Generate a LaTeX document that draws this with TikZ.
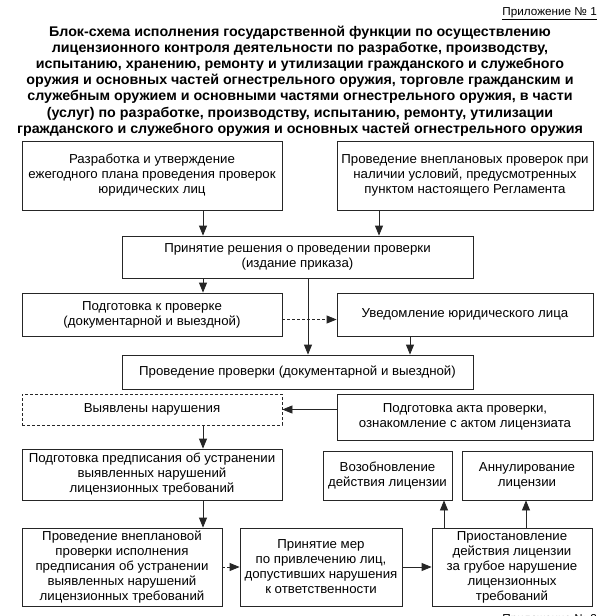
\documentclass[tikz,border=0pt]{standalone}
\usepackage{fontspec}
\setmainfont[FakeStretch=1.02]{Liberation Sans}
\usetikzlibrary{arrows.meta}
\newcommand{\boxfont}{\fontsize{13}{15}\selectfont}
\newcommand{\appfont}{\fontsize{11.5}{14}\selectfont}
\newcommand{\titlefont}{\fontsize{14}{16.2}\selectfont\bfseries}
\tikzset{
  box/.style={draw=black!85, line width=0.8pt, align=center, inner sep=1pt, font=\boxfont, text=black},
  dbox/.style={box, dashed, dash pattern=on 3pt off 2pt},
  arr/.style={draw=black!85, line width=0.8pt, -{Triangle[length=10pt,width=8pt]}},
  darr/.style={arr, dash pattern=on 3pt off 2pt}
}
\begin{document}
\begin{tikzpicture}[x=1pt,y=-1pt]
\clip (0,0) rectangle (600,616);
\fill[white] (0,0) rectangle (600,616);
% header
\node[anchor=east, font=\appfont, inner sep=0pt] (app1) at (597,14) {\underline{Приложение № 1}};
\node[align=center, font=\titlefont, anchor=north, inner sep=0pt] (title) at (300,25.5) {Блок-схема исполнения государственной функции по осуществлению\\
лицензионного контроля деятельности по разработке, производству,\\
испытанию, хранению, ремонту и утилизации гражданского и служебного\\
оружия и основных частей огнестрельного оружия, торговле гражданским и\\
служебным оружием и основными частями огнестрельного оружия, в части\\
(услуг) по разработке, производству, испытанию, ремонту, утилизации\\
гражданского и служебного оружия и основных частей огнестрельного оружия};
% boxes
\node[box, minimum width=260pt, minimum height=69pt] (b1) at (152,175.5) {Разработка и утверждение\\ежегодного плана проведения проверок\\юридических лиц};
\node[box, minimum width=256pt, minimum height=69pt] (b2) at (465,175.5) {Проведение внеплановых проверок при\\наличии условий, предусмотренных\\пунктом настоящего Регламента};
\node[box, minimum width=351pt, minimum height=42pt] (b3) at (297.5,257) {Принятие решения о проведении проверки\\(издание приказа)};
\node[box, minimum width=260pt, minimum height=43pt] (b4) at (152,314.5) {Подготовка к проверке\\(документарной и выездной)};
\node[box, minimum width=256pt, minimum height=43pt] (b5) at (465,314.5) {Уведомление юридического лица};
\node[box, minimum width=351pt, minimum height=34pt] (b6) at (297.5,372) {Проведение проверки (документарной и выездной)};
\node[dbox, minimum width=260pt, minimum height=31pt] (b7) at (152,409.5) {Выявлены нарушения};
\node[box, minimum width=256pt, minimum height=46pt] (b8) at (465,417) {Подготовка акта проверки,\\ознакомление с актом лицензиата};
\node[box, minimum width=260pt, minimum height=51pt] (b9) at (152,474.5) {Подготовка предписания об устранении\\выявленных нарушений\\лицензионных требований};
\node[box, minimum width=129pt, minimum height=49pt] (b10) at (387.5,475.5) {Возобновление\\действия лицензии};
\node[box, minimum width=130pt, minimum height=49pt] (b11) at (527,475.5) {Аннулирование\\лицензии};
\node[box, minimum width=200pt, minimum height=78pt] (b12) at (122,567) {Проведение внеплановой\\проверки исполнения\\предписания об устранении\\выявленных нарушений\\лицензионных требований};
\node[box, minimum width=162pt, minimum height=78pt] (b13) at (321,567) {Принятие мер\\по привлечению лиц,\\допустивших нарушения\\к ответственности};
\node[box, minimum width=160pt, minimum height=78pt] (b14) at (512,567) {Приостановление\\действия лицензии\\за грубое нарушение\\лицензионных\\требований};
\node[anchor=east, font=\appfont, inner sep=0pt] (app2) at (597,620) {Приложение № 2};
% connector columns
\coordinate (xl) at (203,0);
\coordinate (xr) at (379,0);
\coordinate (xm) at (308,0);
\coordinate (xu) at (410,0);
\coordinate (xa) at (444,0);
\coordinate (xb) at (526,0);
% connectors
\draw[arr] (b1.south -| xl) -- (b3.north -| xl);
\draw[arr] (b2.south -| xr) -- (b3.north -| xr);
\draw[arr] (b3.south -| xl) -- (b4.north -| xl);
\draw[arr] (b3.south -| xm) -- (b6.north -| xm);
\draw[darr] ([yshift=-5pt]b4.east) -- ([yshift=-5pt]b5.west);
\draw[arr] (b5.south -| xu) -- (b6.north -| xu);
\draw[arr] (b8.west |- b7.east) -- (b7.east);
\draw[arr] (b7.south -| xl) -- (b9.north -| xl);
\draw[arr] (b9.south -| xl) -- (b12.north -| xl);
\draw[darr] (b12.east) -- (b13.west);
\draw[arr] (b13.east) -- (b14.west);
\draw[arr] (b14.north -| xa) -- (b10.south -| xa);
\draw[arr] (b14.north -| xb) -- (b11.south -| xb);
\end{tikzpicture}
\end{document}
